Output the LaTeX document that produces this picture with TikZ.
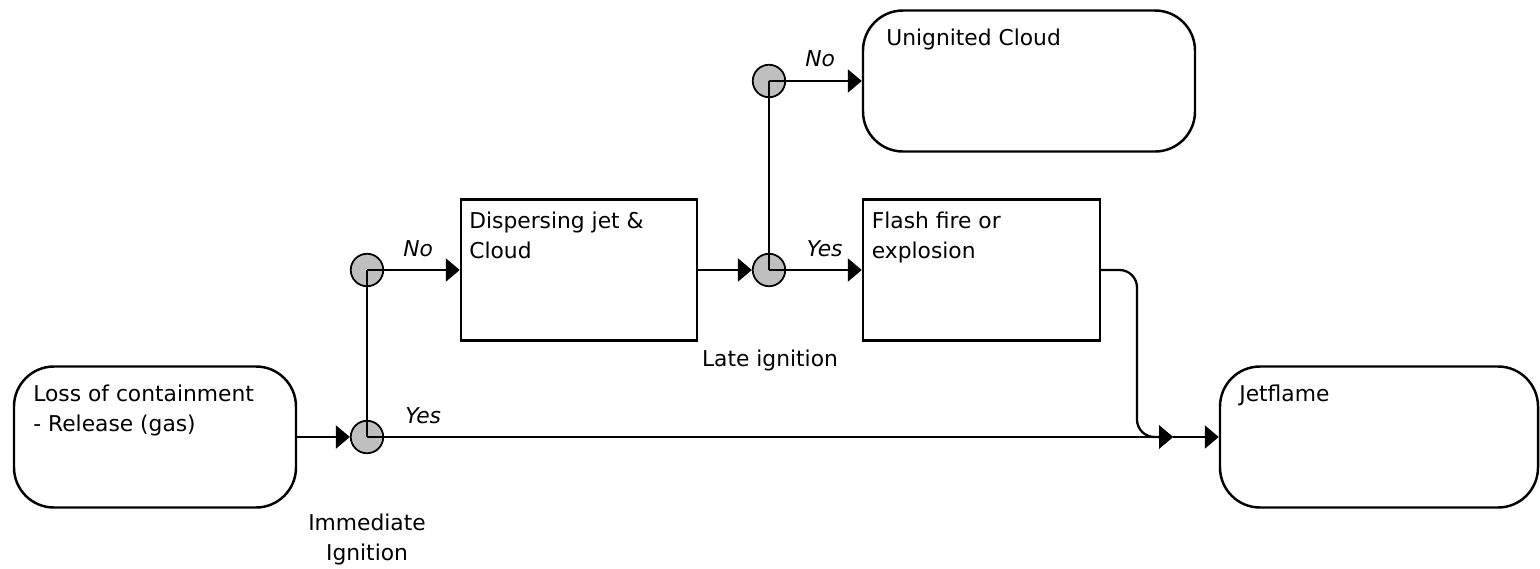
\documentclass[tikz,border=0pt]{standalone}
\usepackage{fontspec}
\setmainfont{DejaVu Sans}
\usetikzlibrary{arrows.meta}

\begin{document}
\begin{tikzpicture}[
    % node styles
    event/.style={rectangle, rounded corners=0.8cm, draw=black, line width=1.4pt, minimum width=#1, minimum height=2.82cm},
    outcome/.style={rectangle, draw=black, line width=1.4pt, minimum width=#1, minimum height=2.82cm},
    gate/.style={circle, draw=black, line width=1pt, fill=gray!50, minimum size=0.65cm, inner sep=0pt},
    texto/.style={font=\fontsize{12.4}{16.7}\selectfont, inner sep=0pt, anchor=base west, align=left},
    gatetext/.style={font=\fontsize{12.4}{16.7}\selectfont, inner sep=0pt, anchor=base, align=center},
    branch/.style={font=\fontsize{12.4}{16.7}\selectfont\itshape, inner sep=0pt, anchor=base west},
    line/.style={-, line width=1.3pt, draw=black},
    arrow/.style={-{Triangle[length=0.28cm, width=0.46cm]}, line width=1.3pt, draw=black}
]
\useasboundingbox (0,0) rectangle (30.8,-11.36);

% --- INITIAL EVENT ---
\node[event=5.64cm] (loss) at (3.10, -8.74) {};
\node[texto] (losstext) at (0.66, -8.62) {Loss of containment\\- Release (gas)};

% --- IMMEDIATE IGNITION ---
\node[gate] (g1) at (7.34, -8.74) {};
\node[gate] (g2) at (7.34, -5.40) {};
\node[gatetext] (immtext) at (7.34, -11.20) {Immediate\\Ignition};

% --- DISPERSING CLOUD ---
\node[outcome=4.72cm] (disp) at (11.58, -5.40) {};
\node[texto] (disptext) at (9.38, -5.16) {Dispersing jet \&\\Cloud};

% --- LATE IGNITION ---
\node[gate] (g3) at (15.38, -5.40) {};
\node[gate] (g4) at (15.38, -1.62) {};
\node[gatetext] (latetext) at (15.40, -7.33) {Late ignition};

% --- OUTCOMES ---
\node[event=6.64cm] (unig) at (20.58, -1.62) {};
\node[texto] (unigtext) at (17.72, -0.90) {Unignited Cloud};
\node[outcome=4.74cm] (flash) at (19.63, -5.40) {};
\node[texto] (flashtext) at (17.43, -5.16) {Flash fire or\\explosion};
\node[event=6.36cm] (jet) at (27.58, -8.74) {};
\node[texto] (jettext) at (24.78, -8.03) {Jetflame};

\coordinate (junc) at (23.46, -8.74);
\coordinate (bend) at (22.74, -8.74);

% --- CONNECTORS ---
\draw[arrow] (loss) -- (g1);
\draw[line] (g1.center) -- (g2.center);
\draw[arrow] (g2.center) -- (disp);
\draw[arrow] (g1.center) -- (junc);
\draw[arrow] (disp) -- (g3);
\draw[line] (g3.center) -- (g4.center);
\draw[arrow] (g4.center) -- (unig);
\draw[arrow] (g3.center) -- (flash);
\draw[arrow, rounded corners=0.35cm] (flash.east) -| (bend) -- (junc);
\draw[arrow] (junc) -- (jet);

% --- BRANCH LABELS ---
\node[branch] (yes1) at (8.10, -8.46) {Yes};
\node[branch] (no1) at (8.06, -5.13) {No};
\node[branch] (yes2) at (16.13, -5.13) {Yes};
\node[branch] (no2) at (16.10, -1.33) {No};

\end{tikzpicture}
\end{document}
